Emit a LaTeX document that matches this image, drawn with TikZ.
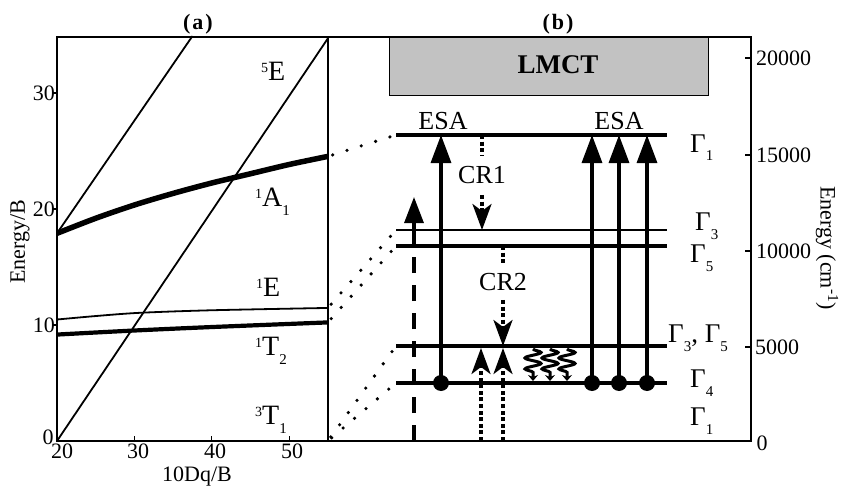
\documentclass[tikz,border=0pt]{standalone}
\usepackage{fontspec}
\setmainfont{Liberation Serif}
\usetikzlibrary{arrows.meta,decorations.pathmorphing}
\newcommand{\fsz}[1]{\fontsize{#1}{#1}\selectfont}
\newcommand{\sps}[1]{\raisebox{8pt}{\fsz{14}#1}}
\newcommand{\sbs}[1]{\raisebox{-9pt}{\fsz{15}#1}}
\begin{document}
\begin{tikzpicture}[x=1pt,y=-1pt,
  frame/.style={line width=1.5pt},
  tickmark/.style={line width=1.1pt},
  tsthin/.style={line width=1.8pt},
  tsthick/.style={line width=5.5pt},
  tsmid/.style={line width=4.2pt},
  level/.style={line width=3.5pt},
  thinlevel/.style={line width=1.9pt},
  link/.style={line width=3.6pt,line cap=round,dash pattern=on 0pt off 15pt,shorten <=5pt,shorten >=4pt},
  esa/.style={line width=3.2pt,-{Triangle[length=28pt,width=20pt]}},
  dashvert/.style={line width=3.4pt,dash pattern=on 16pt off 12pt},
  uparrow/.style={line width=3.2pt,-{Triangle[length=26pt,width=19pt]}},
  crline/.style={line width=3.3pt,dash pattern=on 4pt off 2.6pt},
  crarrow/.style={crline,-{Stealth[length=26pt,width=19pt,inset=7pt]}},
  wave/.style={line width=3pt,decorate,decoration={snake,amplitude=8pt,segment length=11pt,post length=4pt},-{Stealth[length=6pt,width=10pt]}},
  ball/.style={circle,fill,inner sep=0pt,minimum size=16pt},
  tlbl/.style={inner sep=0pt,font=\fsz{22}},
  slbl/.style={inner sep=0pt,font=\fsz{28}},
  glbl/.style={inner sep=0pt,font=\fsz{27}},
  elbl/.style={inner sep=0pt,font=\fsz{26}},
  ttl/.style={inner sep=0pt,font=\bfseries\fsz{22}},
]
\useasboundingbox (0,0) rectangle (844,487);

% LMCT box
\node[draw,line width=1pt,fill=gray!48,minimum width=319pt,minimum height=58pt,inner sep=0pt] (lmctbox) at (548.5,67) {};
\node[inner sep=0pt,font=\bfseries\fsz{27}] (lmct) at (558,65) {LMCT};

% frames
\draw[frame] (57,37) rectangle (751,441);
\draw[frame] (328,37) -- (328,441);

% ticks panel (a)
\foreach \yy in {93,209,325} \draw[tickmark] (52,\yy) -- (57,\yy);
\foreach \xx in {134.4,211.8,289.2} \draw[tickmark] (\xx,441) -- (\xx,436);
% ticks panel (b)
\foreach \yy in {58,155,251,347} \draw[tickmark] (745,\yy) -- (751,\yy);

% Tanabe-Sugano curves
\begin{scope}[shift={(57,441)},x=7.74pt,y=11.57pt]
  \draw[tsthin] (0,17.95) -- (17.5,35);
  \draw[tsthin] (0,0) -- (35,34.8);
  \draw[tsthick] plot[smooth] coordinates {(0,17.95) (5,19.25) (10,20.4) (15,21.4) (20,22.3) (25,23.1) (30,23.9) (35,24.6)};
  \draw[tsthin] plot[smooth] coordinates {(0,10.5) (5,10.8) (10.7,11.08) (20,11.3) (35,11.5)};
  \draw[tsmid] plot[smooth] coordinates {(0,9.2) (10,9.55) (20,9.85) (35,10.25)};
  \coordinate (A1end) at (35,24.6);
  \coordinate (Eend) at (35,11.5);
  \coordinate (T2end) at (35,10.25);
  \coordinate (T1end) at (35,0);
\end{scope}

% level coordinates
\coordinate (G1L) at (396,135); \coordinate (G1R) at (667,135);
\coordinate (G3L) at (396,230); \coordinate (G3R) at (667,230);
\coordinate (G5L) at (396,246); \coordinate (G5R) at (667,246);
\coordinate (G35L) at (396,346); \coordinate (G35R) at (667,346);
\coordinate (G4L) at (396,383); \coordinate (G4R) at (667,383);

\draw[level] (G1L) -- (G1R);
\draw[thinlevel] (G3L) -- (G3R);
\draw[level] (G5L) -- (G5R);
\draw[level] (G35L) -- (G35R);
\draw[level] (G4L) -- (G4R);

% links between panels
\draw[link] (A1end) -- (G1L);
\draw[link] (Eend) -- (G3L);
\draw[link] (T2end) -- (G5L);
\draw[link] (T1end) -- (G35L);
\draw[link] (T1end) -- (G4L);

% dashed vertical with arrow
\coordinate (dvb) at (414,441); \coordinate (dvt) at (414,230); \coordinate (dvtip) at (414,197);
\draw[dashvert] (dvb) -- (dvt);
\draw[uparrow] (dvt) -- (dvtip);

% ESA arrows
\node[ball] (b1) at (441,383) {};
\node[ball] (b2) at (592,383) {};
\node[ball] (b3) at (619,383) {};
\node[ball] (b4) at (647,383) {};
\coordinate (t1) at (441,135); \coordinate (t2) at (592,135);
\coordinate (t3) at (619,135); \coordinate (t4) at (647,135);
\draw[esa] (b1.center) -- (t1);
\draw[esa] (b2.center) -- (t2);
\draw[esa] (b3.center) -- (t3);
\draw[esa] (b4.center) -- (t4);

% CR1
\coordinate (cr1t) at (482,135); \coordinate (cr1b) at (482,230);
\node[elbl,inner ysep=11pt] (cr1) at (482,175) {CR1};
\draw[crline] (cr1t) -- (cr1.north);
\draw[crarrow] (cr1.south) -- (cr1b);
% CR2
\coordinate (cr2t) at (503,246); \coordinate (cr2b) at (503,346);
\node[elbl,inner ysep=9pt] (cr2) at (503,282) {CR2};
\draw[crline] (cr2t) -- (cr2.north);
\draw[crarrow] (cr2.south) -- (cr2b);
% up dotted arrows
\coordinate (u1b) at (481,441); \coordinate (u1t) at (481,348);
\coordinate (u2b) at (503,441); \coordinate (u2t) at (503,348);
\draw[crarrow] (u1b) -- (u1t);
\draw[crarrow] (u2b) -- (u2t);

% wavy arrows
\foreach \xx/\nm in {533/w1,550/w2,567/w3}{
  \coordinate (\nm t) at (\xx,349); \coordinate (\nm b) at (\xx,381);
  \draw[wave] (\nm t) -- (\nm b);
}

% ESA labels
\node[elbl] (esaL) at (443,121) {ESA};
\node[elbl] (esaR) at (619,121) {ESA};

% Gamma labels
\node[glbl,anchor=base west] (g1) at (690,152) {Γ\sbs{1}};
\node[glbl,anchor=base west] (g3) at (695,230) {Γ\sbs{3}};
\node[glbl,anchor=base west] (g5) at (690,262) {Γ\sbs{5}};
\node[glbl,anchor=base west] (g35) at (668,342) {Γ\sbs{3}, Γ\sbs{5}};
\node[glbl,anchor=base west] (g4) at (690,387) {Γ\sbs{4}};
\node[glbl,anchor=base west] (g1b) at (690,425) {Γ\sbs{1}};

% state labels (a)
\node[slbl,anchor=base west] (l5E) at (261,81) {\sps{5}E};
\node[slbl,anchor=base west] (l1A1) at (255,206) {\sps{1}A\sbs{1}};
\node[slbl,anchor=base west] (l1E) at (256,296) {\sps{1}E};
\node[slbl,anchor=base west] (l1T2) at (255,355) {\sps{1}T\sbs{2}};
\node[slbl,anchor=base west] (l3T1) at (255,424) {\sps{3}T\sbs{1}};

% axis labels (a)
\node[tlbl,anchor=east] (ya30) at (55,93) {30};
\node[tlbl,anchor=east] (ya20) at (55,209) {20};
\node[tlbl,anchor=east] (ya10) at (55,325) {10};
\node[tlbl] (ya0) at (48,437) {0};
\node[tlbl] (xa20) at (62,451) {20};
\node[tlbl] (xa30) at (138,451) {30};
\node[tlbl] (xa40) at (215,451) {40};
\node[tlbl] (xa50) at (292,451) {50};
\node[tlbl,anchor=base] (xlab) at (197,481) {10Dq/B};
\node[tlbl,rotate=90] (ylab) at (20,242) {Energy/B};

% axis labels (b)
\node[tlbl,anchor=west] (yb20000) at (756,58) {20000};
\node[tlbl,anchor=west] (yb15000) at (756,155) {15000};
\node[tlbl,anchor=west] (yb10000) at (756,251) {10000};
\node[tlbl,anchor=west] (yb5000) at (755,347) {5000};
\node[tlbl] (yb0) at (762,443) {0};
\node[tlbl,rotate=-90] (yblab) at (827,248) {Energy (cm\textsuperscript{-1})};

% titles
\node[ttl] (ta) at (198,24) {(\kern2pt a\kern2pt)};
\node[ttl] (tb) at (558,24) {(\kern2pt b\kern2pt)};
\end{tikzpicture}
\end{document}
